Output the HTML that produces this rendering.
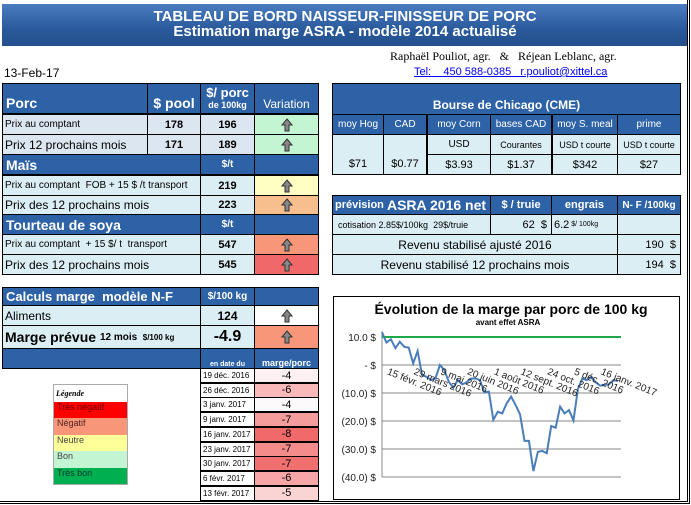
<!DOCTYPE html>
<html><head><meta charset="utf-8">
<style>
body{margin:0;width:691px;height:505px;position:relative;background:#fff;overflow:hidden;font-family:"Liberation Sans",sans-serif}
.c{position:absolute;box-sizing:border-box;border:1px solid #000;display:flex;align-items:center;font-size:11px;white-space:nowrap;overflow:hidden;color:#000}
.h{background:#2e62a6;color:#fff;font-weight:bold}
.l{background:#dbeef4}
.p{background:#dce6f0}
.ctr{justify-content:center}
.r{justify-content:flex-end;padding-right:4px}
.b{font-weight:bold}
.a{justify-content:center}
.a svg{width:12px;height:14px}
.t{position:absolute;white-space:nowrap}
</style></head><body>
<div class="t" style="left:2px;top:4px;width:686px;height:42px;background:linear-gradient(#4a7cc0,#2a5a9c 60%,#234f8c);color:#fff;font-weight:bold;text-align:center;font-size:15px;line-height:15px;padding-top:5px;box-sizing:border-box">TABLEAU DE BORD NAISSEUR-FINISSEUR DE PORC<br>Estimation marge ASRA - modèle 2014 actualisé</div>
<div class="t" style="left:390px;top:49px;font-family:'Liberation Serif',serif;font-size:12px">Raphaël Pouliot, agr. &nbsp;&nbsp;&amp; &nbsp;&nbsp;Réjean Leblanc, agr.</div>
<div class="t" style="left:4px;top:66px;font-size:12px">13-Feb-17</div>
<div class="t" style="left:414px;top:66px;font-size:11px;color:#00f;text-decoration:underline">Tel: &nbsp;&nbsp;&nbsp;450 588-0385 &nbsp;&nbsp;r.pouliot@xittel.ca</div>

<div class="c h" style="left:2px;top:83px;width:146px;height:31px;font-size:14px;align-items:flex-end;padding:0 0 2px 3px">Porc</div>
<div class="c h ctr" style="left:147px;top:83px;width:54px;height:31px;font-size:14px;align-items:flex-end;padding-bottom:2px">$ pool</div>
<div class="c h ctr" style="left:200px;top:83px;width:55px;height:31px;flex-direction:column;font-size:13px;line-height:12px">$/ porc<span style="font-size:9px">de 100kg</span></div>
<div class="c h ctr" style="left:254px;top:83px;width:65px;height:31px;font-weight:normal;font-size:12px;align-items:flex-end;padding-bottom:2px">Variation</div>

<div class="c p" style="left:2px;top:114px;width:146px;height:21px;font-size:10px;padding-left:2px">Prix au comptant</div>
<div class="c p ctr b" style="left:147px;top:114px;width:54px;height:21px">178</div>
<div class="c p ctr b" style="left:200px;top:114px;width:55px;height:21px">196</div>
<div class="c a" style="left:254px;top:114px;width:65px;height:21px;background:#c4f5d3"><svg viewBox="0 0 12 14"><path d="M6 1L11 7H8V13H4V7H1Z" fill="#888" stroke="#333"/></svg></div>
<div class="c p" style="left:2px;top:134px;width:146px;height:21px;font-size:12px;padding-left:2px">Prix 12 prochains mois</div>
<div class="c p ctr b" style="left:147px;top:134px;width:54px;height:21px">171</div>
<div class="c p ctr b" style="left:200px;top:134px;width:55px;height:21px">189</div>
<div class="c a" style="left:254px;top:134px;width:65px;height:21px;background:#c4f5d3"><svg viewBox="0 0 12 14"><path d="M6 1L11 7H8V13H4V7H1Z" fill="#888" stroke="#333"/></svg></div>

<div class="c h" style="left:2px;top:154px;width:199px;height:21px;font-size:14px;padding-left:3px">Maïs</div>
<div class="c h ctr" style="left:200px;top:154px;width:55px;height:21px;font-size:10px">$/t</div>
<div class="c h" style="left:254px;top:154px;width:65px;height:21px"></div>
<div class="c l" style="left:2px;top:175px;width:199px;height:21px;font-size:10px;padding-left:2px">Prix au comptant &nbsp;FOB + 15 $ /t transport</div>
<div class="c l ctr b" style="left:200px;top:175px;width:55px;height:21px">219</div>
<div class="c a" style="left:254px;top:175px;width:65px;height:21px;background:#ffffc4"><svg viewBox="0 0 12 14"><path d="M6 1L11 7H8V13H4V7H1Z" fill="#888" stroke="#333"/></svg></div>
<div class="c l" style="left:2px;top:195px;width:199px;height:20px;font-size:12px;padding-left:2px">Prix des 12 prochains mois</div>
<div class="c l ctr b" style="left:200px;top:195px;width:55px;height:20px">223</div>
<div class="c a" style="left:254px;top:195px;width:65px;height:20px;background:#f8bf8e"><svg viewBox="0 0 12 14"><path d="M6 1L11 7H8V13H4V7H1Z" fill="#888" stroke="#333"/></svg></div>

<div class="c h" style="left:2px;top:214px;width:199px;height:21px;font-size:14px;padding-left:3px">Tourteau de soya</div>
<div class="c h ctr" style="left:200px;top:214px;width:55px;height:21px;font-size:10px">$/t</div>
<div class="c h" style="left:254px;top:214px;width:65px;height:21px"></div>
<div class="c l" style="left:2px;top:234px;width:199px;height:21px;font-size:10px;padding-left:2px">Prix au comptant &nbsp;+ 15 $/ t &nbsp;transport</div>
<div class="c l ctr b" style="left:200px;top:234px;width:55px;height:21px">547</div>
<div class="c a" style="left:254px;top:234px;width:65px;height:21px;background:#f79679"><svg viewBox="0 0 12 14"><path d="M6 1L11 7H8V13H4V7H1Z" fill="#888" stroke="#333"/></svg></div>
<div class="c l" style="left:2px;top:254px;width:199px;height:21px;font-size:12px;padding-left:2px">Prix des 12 prochains mois</div>
<div class="c l ctr b" style="left:200px;top:254px;width:55px;height:21px">545</div>
<div class="c a" style="left:254px;top:254px;width:65px;height:21px;background:#f06868"><svg viewBox="0 0 12 14"><path d="M6 1L11 7H8V13H4V7H1Z" fill="#888" stroke="#333"/></svg></div>

<div class="c h ctr" style="left:332px;top:83px;width:349px;height:32px;font-size:12px;align-items:flex-end;padding-bottom:2px">Bourse de Chicago (CME)</div>
<div class="c h ctr" style="left:332px;top:114px;width:52px;height:21px;font-weight:normal;font-size:10px">moy Hog</div>
<div class="c h ctr" style="left:383px;top:114px;width:44px;height:21px;font-weight:normal;font-size:10px">CAD</div>
<div class="c h ctr" style="left:427px;top:114px;width:64px;height:21px;font-weight:normal;font-size:10px">moy Corn</div>
<div class="c h ctr" style="left:490px;top:114px;width:62px;height:21px;font-weight:normal;font-size:10px">bases CAD</div>
<div class="c h ctr" style="left:552px;top:114px;width:66px;height:21px;font-weight:normal;font-size:10px">moy S. meal</div>
<div class="c h ctr" style="left:617px;top:114px;width:64px;height:21px;font-weight:normal;font-size:10px">prime</div>
<div class="c l ctr" style="left:332px;top:134px;width:52px;height:41px;align-items:flex-end;padding-bottom:4px">$71</div>
<div class="c l ctr" style="left:383px;top:134px;width:44px;height:41px;align-items:flex-end;padding-bottom:4px">$0.77</div>
<div class="c l ctr" style="left:427px;top:134px;width:64px;height:21px;font-size:10px">USD</div>
<div class="c l ctr" style="left:490px;top:134px;width:62px;height:21px;font-size:9px">Courantes</div>
<div class="c l ctr" style="left:552px;top:134px;width:66px;height:21px;font-size:9px">USD t courte</div>
<div class="c l ctr" style="left:617px;top:134px;width:64px;height:21px;font-size:9px">USD t courte</div>
<div class="c l ctr" style="left:427px;top:154px;width:64px;height:21px">$3.93</div>
<div class="c l ctr" style="left:490px;top:154px;width:62px;height:21px">$1.37</div>
<div class="c l ctr" style="left:552px;top:154px;width:66px;height:21px">$342</div>
<div class="c l ctr" style="left:617px;top:154px;width:64px;height:21px">$27</div>

<div class="c h" style="left:332px;top:195px;width:159px;height:20px;font-size:11px;padding-left:2px">prévision&nbsp;<span style="font-size:14px">ASRA 2016 net</span></div>
<div class="c h ctr" style="left:490px;top:195px;width:62px;height:20px">$ / truie</div>
<div class="c h ctr" style="left:551px;top:195px;width:67px;height:20px">engrais</div>
<div class="c h ctr" style="left:617px;top:195px;width:64px;height:20px;font-size:10px">N- F /100kg</div>
<div class="c l" style="left:332px;top:214px;width:159px;height:21px;font-size:9px;padding-left:5px">cotisation 2.85$/100kg &nbsp;29$/truie</div>
<div class="c l r" style="left:490px;top:214px;width:62px;height:21px">62 &nbsp;$</div>
<div class="c l" style="left:551px;top:214px;width:67px;height:21px;padding-left:2px">6.2 <span style="font-size:7px">&nbsp;$/ 100kg</span></div>
<div class="c l" style="left:617px;top:214px;width:64px;height:21px"></div>
<div class="c l ctr" style="left:332px;top:234px;width:286px;height:21px;font-size:12px">Revenu stabilisé ajusté 2016</div>
<div class="c l r" style="left:617px;top:234px;width:64px;height:21px">190 &nbsp;$</div>
<div class="c l ctr" style="left:332px;top:254px;width:286px;height:21px;font-size:12px">Revenu stabilisé 12 prochains mois</div>
<div class="c l r" style="left:617px;top:254px;width:64px;height:21px">194 &nbsp;$</div>

<div class="c h" style="left:2px;top:287px;width:199px;height:19px;font-size:13px;padding-left:3px">Calculs marge &nbsp;modèle N-F</div>
<div class="c h ctr" style="left:200px;top:287px;width:55px;height:19px;font-size:10px">$/100 kg</div>
<div class="c h" style="left:254px;top:287px;width:65px;height:19px"></div>
<div class="c l" style="left:2px;top:305px;width:199px;height:21px;font-size:12px;padding-left:2px">Aliments</div>
<div class="c l ctr b" style="left:200px;top:305px;width:55px;height:21px;font-size:12px">124</div>
<div class="c a" style="left:254px;top:305px;width:65px;height:21px;background:#fff"><svg viewBox="0 0 12 14"><path d="M6 1L11 7H8V13H4V7H1Z" fill="#888" stroke="#333"/></svg></div>
<div class="c l b" style="left:2px;top:325px;width:199px;height:24px;font-size:14px;padding-left:2px">Marge prévue&nbsp;<span style="font-size:10px">12 mois &nbsp;<span style="font-size:8px">$/100 kg</span></span></div>
<div class="c l ctr b" style="left:200px;top:325px;width:55px;height:24px;font-size:16px">-4.9</div>
<div class="c a" style="left:254px;top:325px;width:65px;height:24px;background:#f79679"><svg viewBox="0 0 12 14"><path d="M6 1L11 7H8V13H4V7H1Z" fill="#888" stroke="#333"/></svg></div>
<div class="c h" style="left:2px;top:348px;width:199px;height:21px"></div>
<div class="c h ctr" style="left:200px;top:348px;width:55px;height:21px;font-size:7px;align-items:flex-end">en date du</div>
<div class="c h ctr" style="left:254px;top:348px;width:65px;height:21px;font-size:9px;align-items:flex-end">marge/porc</div>

<div id="hist"></div>

<div class="c" style="left:53px;top:384px;width:75px;height:101px;flex-direction:column;align-items:stretch;border-color:#aaa;font-size:9px">
<div style="height:17px;line-height:17px;padding-left:2px;font-style:italic;font-family:'Liberation Serif',serif;font-size:8px;font-weight:bold">Légende</div>
<div style="flex:1;background:#ff0000;padding-left:3px;color:#600">Très négatif</div>
<div style="flex:1;background:#f79679;padding-left:3px;color:#522">Négatif</div>
<div style="flex:1;background:#ffff99;padding-left:3px;color:#444">Neutre</div>
<div style="flex:1;background:#c4f5d3;padding-left:3px;color:#444">Bon</div>
<div style="flex:1;background:#00b050;padding-left:3px;color:#033">Très bon</div>
</div>

<div class="t" style="left:333px;top:296px;width:347px;height:204px;border:1px solid #000;box-sizing:border-box"></div>
<svg id="chart" style="position:absolute;left:333px;top:296px" width="347" height="204" font-family="Liberation Sans, sans-serif"></svg>

<div class="t" style="left:0;top:0;width:690px;height:504px;border-right:3px double #000;border-bottom:3px double #000;box-sizing:border-box"></div>

<script>
const histDates=["19 déc. 2016","26 déc. 2016","3 janv. 2017","9 janv. 2017","16 janv. 2017","23 janv. 2017","30 janv. 2017","6 févr. 2017","13 févr. 2017"];
const histValues=[-4,-6,-4,-7,-8,-7,-7,-6,-5];
const histColors=["#fdf0f2","#f9b9b9","#fdfafc","#f59c9c","#f06a6a","#f48c8c","#f07070","#f6a6a6","#fad3d3"];
const hist=document.getElementById('hist');
histDates.forEach((d,i)=>{
  const y=368+i*14.7;
  const a=document.createElement('div');
  a.className='c';
  
  
  a.style.cssText=`left:200px;top:${y}px;width:55px;height:15px;font-size:8px;padding-left:2px;background:#fff`;
  a.textContent=d;hist.appendChild(a);
  const b=document.createElement('div');
  b.className='c ctr';
  
  
  b.style.cssText=`left:254px;top:${y}px;width:65px;height:15px;font-size:11px;background:${histColors[i]}`;
  b.textContent=histValues[i];hist.appendChild(b);
});

const marginValues=[11.7,8.0,9.2,6.0,8.3,6.5,6.2,0.6,5.0,-3.6,-4.2,-5.4,-4.8,0,-1.8,-6.0,-8.1,-5.4,-6.9,-6.2,-4.8,-4.8,-5.4,-9.8,-9.5,-19.6,-16.7,-17.3,-13.7,-11.3,-14.3,-17.6,-27.1,-27.1,-37.9,-31.0,-30.7,-31.5,-21.8,-22.4,-14.9,-17.3,-16.1,-19.8,-8.6,-4.8,-5.4,-4.2,-6.2,-7.4,-7.1,-6.9,-5.4,-5.7];
const targetValue=[10];
const yTicks=[10,0,-10,-20,-30,-40];
const yTickLabels=["10.0  $","-   $","(10.0) $","(20.0) $","(30.0) $","(40.0) $"];
const xLabels=["15 févr. 2016","29 mars 2016","9 mai 2016","20 juin 2016","1 août 2016","12 sept. 2016","24 oct. 2016","5 déc. 2016","16 janv. 2017"];
const xLabelIndex=[1,7,13,19,25,31,37,43,49];

const svg=document.getElementById('chart');
const NS='http://www.w3.org/2000/svg';
const X0=49,X1=285;
const xs=i=>X0+(X1-X0)*i/(marginValues.length-1);
const ys=v=>69-v*2.8;
function mk(t,at){const e=document.createElementNS(NS,t);for(const k in at)e.setAttribute(k,at[k]);svg.appendChild(e);return e;}
let e;
e=mk('text',{x:178,y:18,'text-anchor':'middle','font-size':'14','font-weight':'bold'});e.textContent='Évolution de la marge par porc de 100 kg';


e=mk('text',{x:175,y:29,'text-anchor':'middle','font-size':'8','font-weight':'bold'});e.textContent='avant effet ASRA';


yTicks.forEach((v,i)=>{
  if(v<0){const g=mk('line',{x1:X0,x2:X1+3,y1:ys(v),y2:ys(v),stroke:'#888','stroke-width':1});
  
  }
  const t=mk('text',{x:43,y:ys(v)+4,'text-anchor':'end','font-size':'10',fill:'#222'});t.textContent=yTickLabels[i];
  
  
});
e=mk('line',{x1:X0,x2:X0,y1:ys(12),y2:ys(-40),stroke:'#888'});


e=mk('line',{x1:X0,x2:X1+3,y1:ys(0),y2:ys(0),stroke:'#888'});


e=mk('line',{x1:X0,x2:X1+3,y1:ys(targetValue[0]),y2:ys(targetValue[0]),stroke:'#1ea84a','stroke-width':2});


e=mk('polyline',{points:marginValues.map((v,i)=>xs(i)+','+ys(v)).join(' '),fill:'none',stroke:'#4a7ebb','stroke-width':2});


xLabels.forEach((l,i)=>{
  const x=xs(xLabelIndex[i]),y=ys(0)+9;
  const t=mk('text',{x:x,y:y,'font-size':'10',fill:'#222',transform:`rotate(22 ${x} ${y})`});t.textContent=l;
  
  
});
</script>
</body></html>
